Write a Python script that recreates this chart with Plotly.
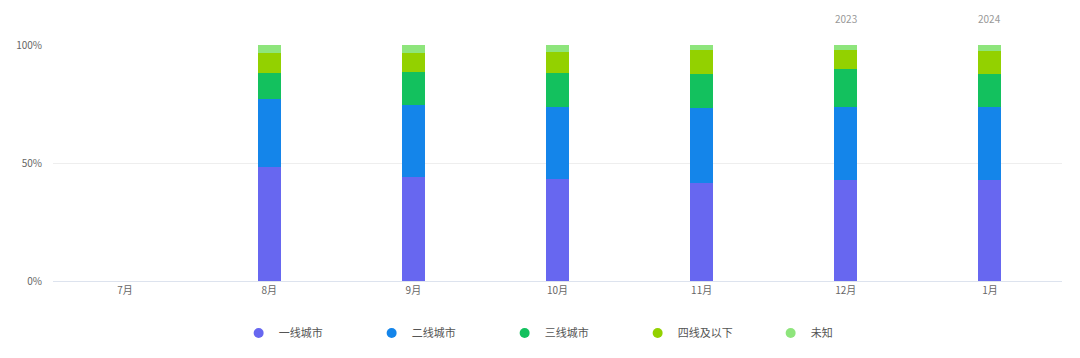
import plotly.graph_objects as go

months = ["7月", "8月", "9月", "10月", "11月", "12月", "1月"]
series_names = ["一线城市", "二线城市", "三线城市", "四线及以下", "未知"]
tier1 = [None, 48.1, 44.0, 43.3, 41.6, 42.6, 42.6]
tier2 = [None, 29.2, 30.5, 30.5, 31.9, 31.2, 31.2]
tier3 = [None, 11.0, 14.2, 14.5, 14.2, 15.9, 13.9]
tier4 = [None, 8.3, 7.9, 8.9, 10.2, 8.2, 9.8]
unknown = [None, 3.4, 3.4, 2.8, 2.1, 2.1, 2.5]
year_labels = [("12月", "2023"), ("1月", "2024")]
y_ticks = [0, 50, 100]
y_tick_text = ["0%", "50%", "100%"]

colors = ["#6767F0", "#1485EA", "#13C15E", "#93D100", "#8EE57C"]
font_family = "Noto Sans CJK SC, Noto Sans, sans-serif"

fig = go.Figure()
for name, vals, col in zip(series_names, [tier1, tier2, tier3, tier4, unknown], colors):
    fig.add_trace(go.Bar(x=months, y=vals, name=name, marker_color=col,
                         marker_line_width=0, showlegend=False, legendgroup=name))
for name, col in zip(series_names, colors):
    fig.add_trace(go.Scatter(x=[None], y=[None], mode="markers", name=name,
                             marker=dict(color=col, size=10, symbol="circle"),
                             legendgroup=name, showlegend=True))

for m, yr in year_labels:
    fig.add_annotation(x=m, y=1.114, xref="x", yref="paper", yanchor="middle",
                       text=yr, showarrow=False,
                       font=dict(size=10, color="#999999", family=font_family))

fig.update_layout(
    barmode="stack",
    bargap=0.84,
    width=1080, height=358,
    margin=dict(l=53, r=18, t=45, b=77, autoexpand=False),
    paper_bgcolor="white", plot_bgcolor="white",
    font=dict(family=font_family, size=10, color="#666666"),
    xaxis=dict(categoryorder="array", categoryarray=months, showgrid=False,
               showline=True, linecolor="#DDE3EE", linewidth=1, ticks="",
               automargin=False, tickfont=dict(size=10, color="#666666")),
    yaxis=dict(range=[0, 100], tickvals=y_ticks, ticktext=y_tick_text,
               showgrid=True, gridcolor="#EEEEEE", zeroline=False, automargin=False,
               tickfont=dict(size=10, color="#666666"), ticklabelstandoff=10),
    legend=dict(orientation="h", x=0.184, xanchor="left", y=-0.22, yanchor="middle",
                font=dict(size=11, color="#555555"), entrywidth=88,
                itemwidth=30),
)

fig.write_html("out.html", config={"displayModeBar": False})

with open("out.html", "r", encoding="utf-8") as f:
    html = f.read()
html = html.replace("<head>", "<head><style>html,body{margin:0;padding:0;overflow:hidden;}</style>", 1)
with open("out.html", "w", encoding="utf-8") as f:
    f.write(html)
